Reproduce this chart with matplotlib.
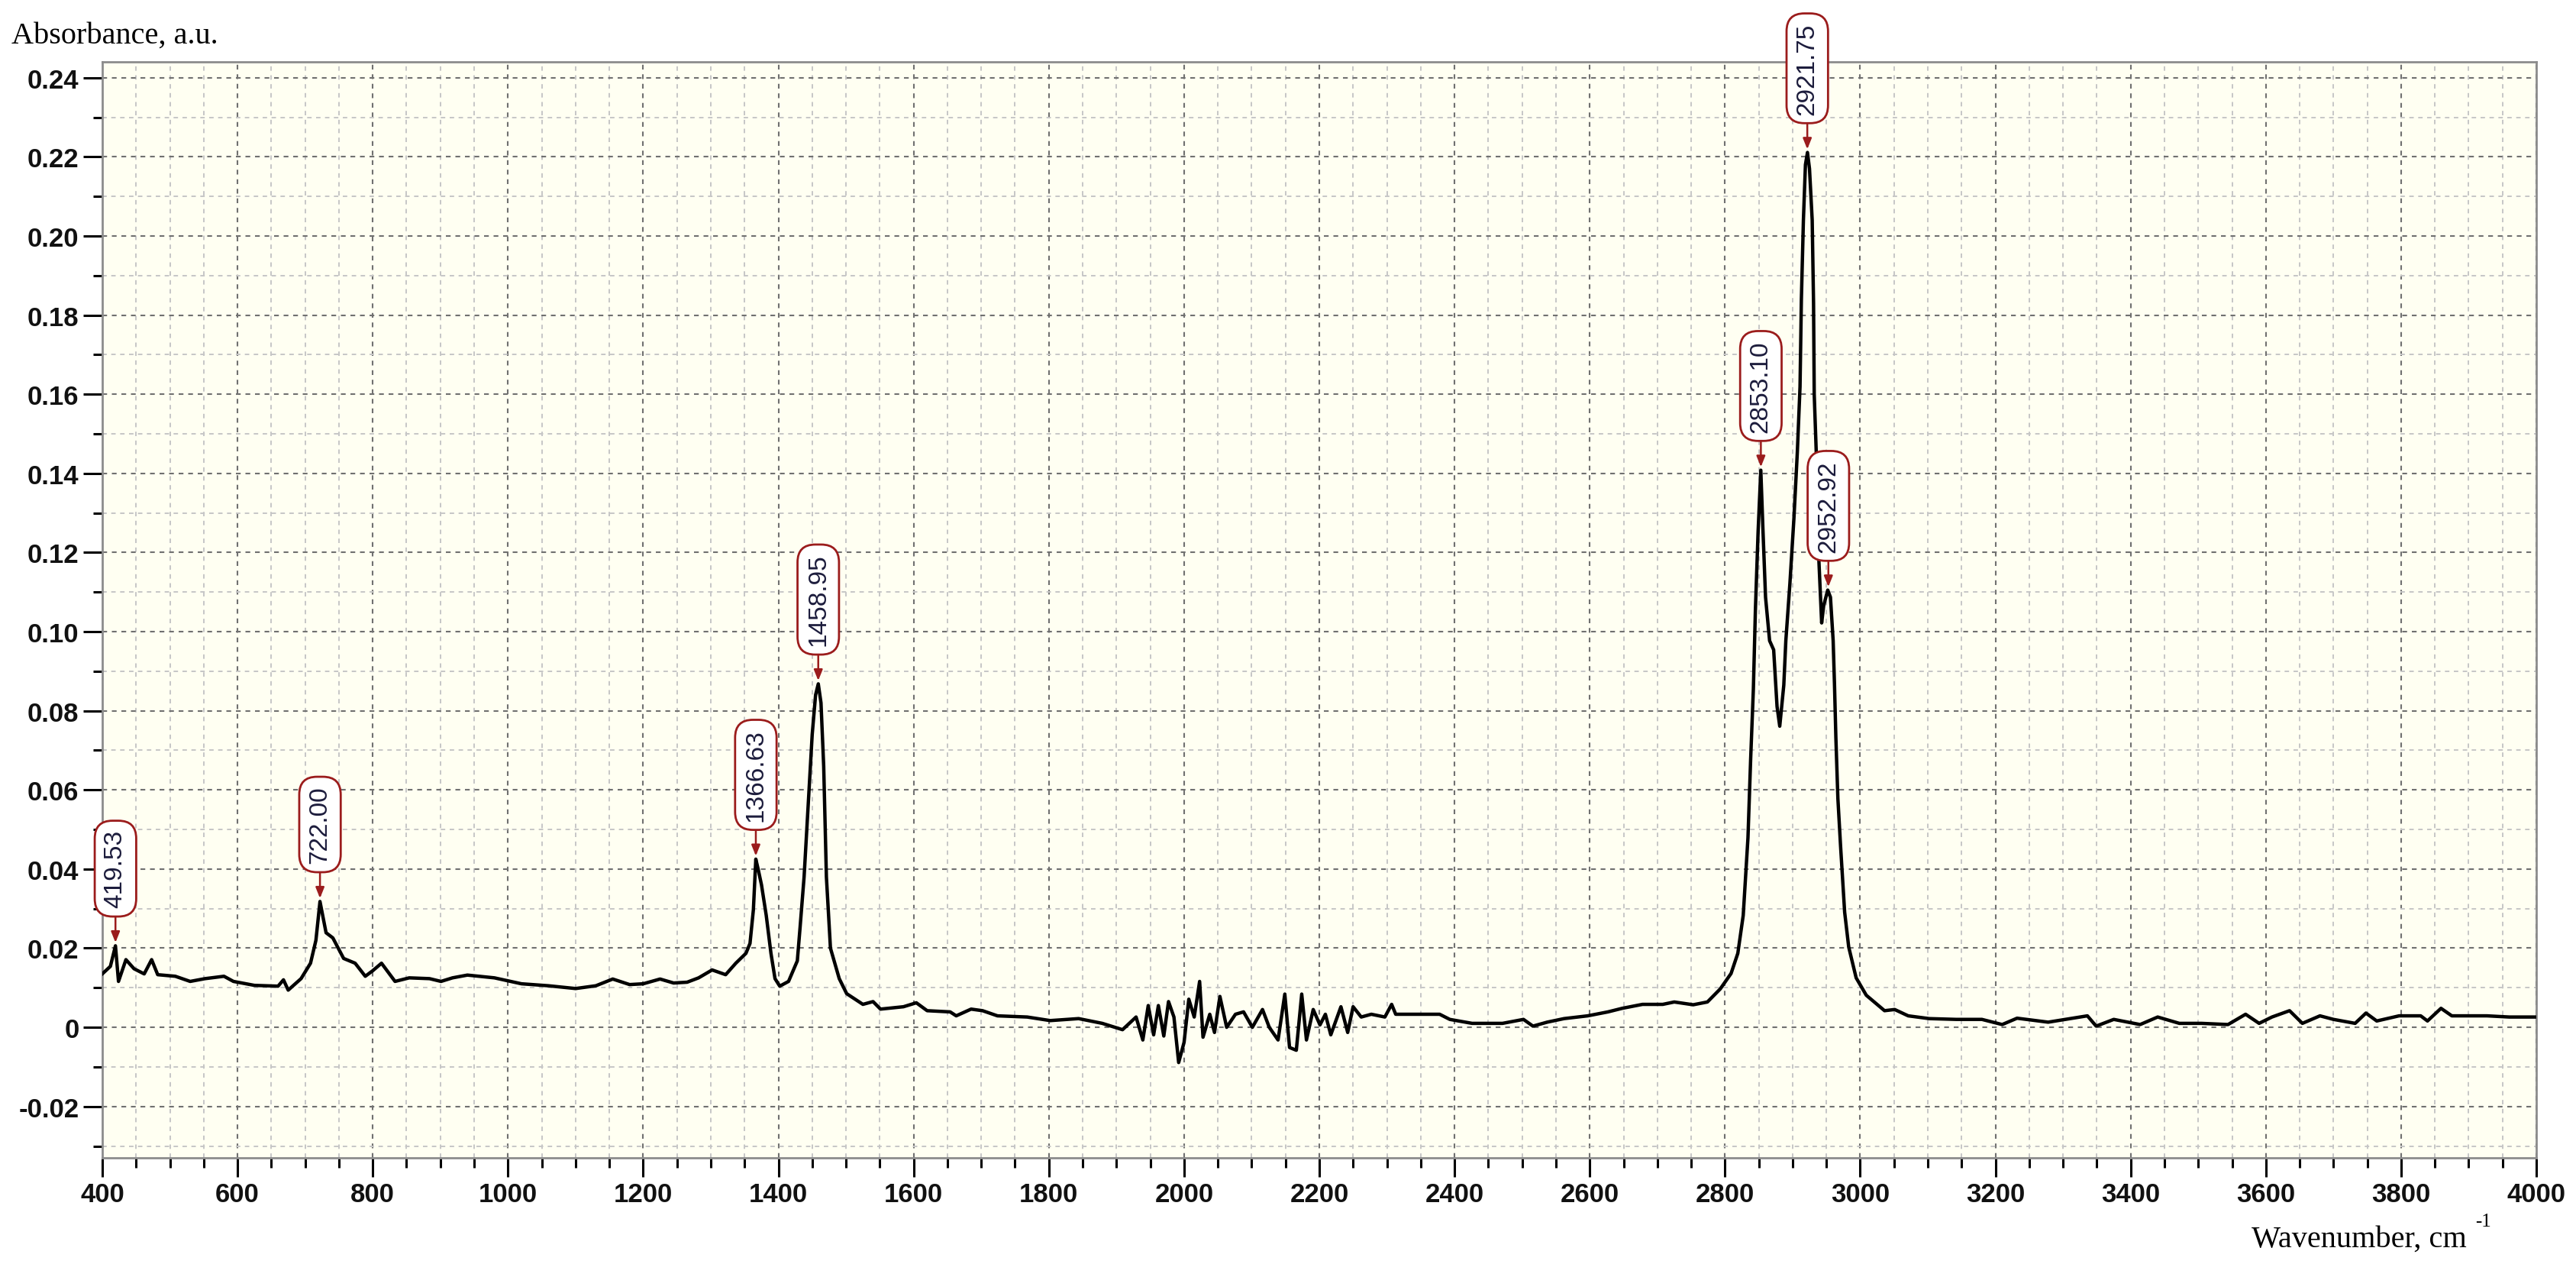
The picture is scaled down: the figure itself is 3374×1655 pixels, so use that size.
import numpy as np
import matplotlib
matplotlib.use('Agg')
import matplotlib.pyplot as plt
from matplotlib.ticker import MultipleLocator, FuncFormatter

# espectro (numero de onda, absorbancia)
wavenumber = [400, 412, 419.5, 424, 435, 447, 462, 473, 482, 508, 530, 552, 580, 594,
              625, 660, 668, 675, 694, 708, 716, 722, 726, 731, 741, 757, 774, 789,
              800, 813, 833, 854, 884, 901, 918, 940, 980, 1020, 1060, 1100, 1130,
              1155, 1180, 1200, 1225, 1245, 1265, 1282, 1302, 1322, 1337, 1352, 1358,
              1363, 1366.6, 1370, 1375, 1382, 1389, 1395, 1402, 1415, 1428, 1432,
              1438, 1444, 1450, 1455, 1459, 1463, 1467, 1471, 1477, 1490, 1501, 1525,
              1540, 1551, 1585, 1604, 1620, 1654, 1663, 1685, 1702, 1724, 1768, 1802,
              1844, 1879, 1909, 1929, 1939, 1947, 1955, 1962, 1970, 1977, 1985, 1992,
              2000, 2007, 2015, 2023, 2028, 2038, 2045, 2053, 2063, 2076, 2088, 2101,
              2116, 2126, 2139, 2149, 2156, 2166, 2174, 2181, 2191, 2201, 2209, 2217,
              2232, 2242, 2250, 2262, 2277, 2297, 2307, 2313, 2378, 2393, 2426, 2471,
              2502, 2516, 2537, 2562, 2597, 2627, 2648, 2678, 2708, 2725, 2753, 2774,
              2793, 2809, 2819, 2827, 2834, 2838, 2842, 2845, 2849, 2853, 2856, 2860,
              2866, 2872, 2877, 2881, 2887, 2890, 2896, 2902, 2907, 2911, 2913, 2916,
              2919, 2922, 2925, 2929, 2931, 2932, 2935, 2939, 2943, 2946, 2952, 2956,
              2960, 2962, 2964, 2967, 2971, 2977, 2983, 2994, 3009, 3036, 3051, 3071,
              3102, 3142, 3180, 3210, 3232, 3278, 3336, 3349, 3375, 3414, 3440, 3472,
              3505, 3544, 3570, 3590, 3609, 3635, 3654, 3680, 3700, 3732, 3748, 3764,
              3797, 3829, 3839, 3859, 3875, 3927, 3960, 4000]
absorbance = [0.0135, 0.0154, 0.0206, 0.0116, 0.0171, 0.0148, 0.0135, 0.0171, 0.0133,
              0.0129, 0.0116, 0.0123, 0.0129, 0.0116, 0.0106, 0.0104, 0.0120, 0.0094,
              0.0123, 0.0162, 0.0220, 0.0318, 0.0283, 0.0239, 0.0226, 0.0174, 0.0162,
              0.0129, 0.0143, 0.0162, 0.0116, 0.0125, 0.0123, 0.0116, 0.0125, 0.0132,
              0.0125, 0.0110, 0.0105, 0.0098, 0.0105, 0.0122, 0.0108, 0.0110, 0.0122,
              0.0112, 0.0114, 0.0125, 0.0145, 0.0133, 0.0162, 0.0187, 0.0212, 0.0297,
              0.0425, 0.0400, 0.0360, 0.0283, 0.0187, 0.0123, 0.0104, 0.0116, 0.0168,
              0.0251, 0.0380, 0.0560, 0.0740, 0.0840, 0.0868, 0.0820, 0.0660, 0.0380,
              0.0200, 0.0123, 0.0085, 0.0058, 0.0065, 0.0046, 0.0052, 0.0062, 0.0042,
              0.0039, 0.0029, 0.0046, 0.0042, 0.0029, 0.0026, 0.0017, 0.0022, 0.0010,
              -0.0006, 0.0026, -0.0032, 0.0055, -0.0019, 0.0055, -0.0022, 0.0065,
              0.0026, -0.0089, -0.0038, 0.0071, 0.0026, 0.0116, -0.0025, 0.0033,
              -0.0013, 0.0078, 0.0000, 0.0033, 0.0039, 0.0000, 0.0045, 0.0000, -0.0032,
              0.0084, -0.0051, -0.0058, 0.0084, -0.0032, 0.0045, 0.0006, 0.0033,
              -0.0019, 0.0052, -0.0013, 0.0052, 0.0026, 0.0033, 0.0026, 0.0058, 0.0033,
              0.0033, 0.0020, 0.0010, 0.0010, 0.0020, 0.0003, 0.0013, 0.0022, 0.0029,
              0.0039, 0.0048, 0.0058, 0.0058, 0.0064, 0.0057, 0.0064, 0.0097, 0.0136,
              0.0187, 0.0283, 0.0479, 0.0679, 0.0855, 0.1055, 0.1253, 0.1408, 0.1265,
              0.1087, 0.0977, 0.0954, 0.0811, 0.0761, 0.0865, 0.0977, 0.1121, 0.1287,
              0.1453, 0.1619, 0.1840, 0.2040, 0.2180, 0.2211, 0.2170, 0.2040, 0.1830,
              0.1600, 0.1453, 0.1176, 0.1022, 0.1066, 0.1105, 0.1087, 0.0977, 0.0865,
              0.0733, 0.0578, 0.0457, 0.0291, 0.0203, 0.0125, 0.0081, 0.0042, 0.0045,
              0.0029, 0.0022, 0.0020, 0.0020, 0.0007, 0.0023, 0.0013, 0.0029, 0.0003,
              0.0020, 0.0007, 0.0026, 0.0010, 0.0010, 0.0007, 0.0033, 0.0010, 0.0026,
              0.0042, 0.0010, 0.0029, 0.0020, 0.0010, 0.0036, 0.0016, 0.0029, 0.0029,
              0.0016, 0.0048, 0.0029, 0.0029, 0.0026, 0.0026]

# picos marcados
peak_wn = [419.53, 722.00, 1366.63, 1458.95, 2853.10, 2921.75, 2952.92]
peak_abs = [0.0206, 0.0318, 0.0425, 0.0868, 0.1408, 0.2211, 0.1105]
peak_labels = ['419.53', '722.00', '1366.63', '1458.95', '2853.10', '2921.75', '2952.92']

red = '#9b1c1c'

fig = plt.figure(figsize=(33.74, 16.56), dpi=100)
ax = fig.add_axes([0.0397, 0.0839, 0.9449, 0.8666])
ax.set_facecolor('#fffff2')

ax.plot(wavenumber, absorbance, color='black', lw=3.2, zorder=3)

ax.set_xlim(400, 4000)
ax.set_ylim(-0.033, 0.244)
ax.xaxis.set_major_locator(MultipleLocator(200))
ax.xaxis.set_minor_locator(MultipleLocator(50))
ax.yaxis.set_major_locator(MultipleLocator(0.02))
ax.yaxis.set_minor_locator(MultipleLocator(0.01))
ax.yaxis.set_major_formatter(FuncFormatter(lambda v, p: '0' if abs(v) < 1e-9 else '%.2f' % v))

# rejilla punteada
ax.grid(which='major', ls=(0, (3, 3)), color='#707070', lw=1.5, zorder=1)
ax.grid(which='minor', ls=(0, (3, 3)), color='#c6c6c6', lw=1.4, zorder=1)
ax.set_axisbelow(True)

for s in ax.spines.values():
    s.set_color('#8c8c8c')
    s.set_linewidth(2)

ax.tick_params(which='major', direction='out', length=18, width=2.2, color='black', pad=4)
ax.tick_params(which='minor', direction='out', length=9, width=2.2, color='black')
for lab in ax.get_xticklabels() + ax.get_yticklabels():
    lab.set_fontfamily('Liberation Sans')
    lab.set_fontweight('bold')
    lab.set_fontsize(25)
    lab.set_color('#111111')

# etiquetas de los picos
for wn, a, txt in zip(peak_wn, peak_abs, peak_labels):
    ax.annotate(txt, xy=(wn, a), xytext=(0, 36), textcoords='offset points',
                rotation=90, ha='center', va='bottom', fontsize=24,
                family='Liberation Sans', color='#1c1c3c', zorder=5,
                bbox=dict(boxstyle='round,pad=0.35,rounding_size=0.7', fc='white', ec=red, lw=2),
                arrowprops=dict(arrowstyle='-|>,head_length=0.35,head_width=0.14', color=red,
                                lw=1.8, shrinkA=0, shrinkB=3))

fig.text(0.0044, 0.9656, 'Absorbance, a.u.', family='Liberation Serif', fontsize=29,
         va='baseline', ha='left')
fig.text(0.874, 0.0139, 'Wavenumber, cm', family='Liberation Serif', fontsize=29,
         va='baseline', ha='left')
fig.text(0.961, 0.0300, '-1', family='Liberation Serif', fontsize=18,
         va='baseline', ha='left')

fig.savefig('out.png', dpi=100)
